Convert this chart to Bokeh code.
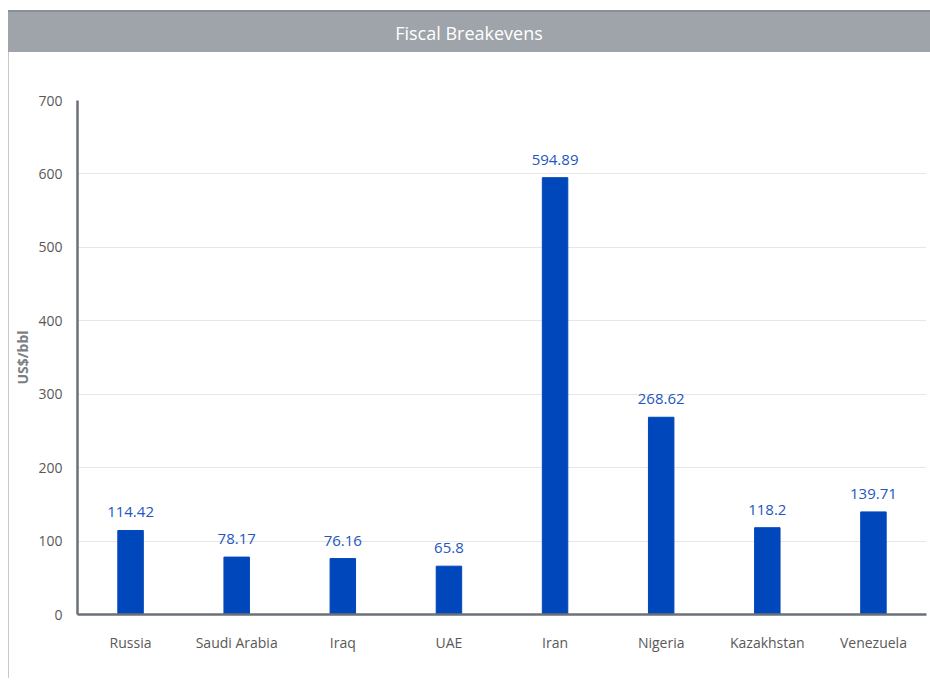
from bokeh.plotting import figure
from bokeh.models import ColumnDataSource, Div, LabelSet, Range1d, SingleIntervalTicker
from bokeh.core.properties import value
from bokeh.layouts import column
from bokeh.embed import file_html
from bokeh.resources import INLINE

countries = ["Russia", "Saudi Arabia", "Iraq", "UAE", "Iran", "Nigeria", "Kazakhstan", "Venezuela"]
breakevens = [114.42, 78.17, 76.16, 65.8, 594.89, 268.62, 118.2, 139.71]
labels = ["114.42", "78.17", "76.16", "65.8", "594.89", "268.62", "118.2", "139.71"]

src = ColumnDataSource(dict(x=countries, y=breakevens, lab=labels))

FONT = "Open Sans"
W = 922

title = Div(
    text=('<div style="margin-top:2px;height:42px;line-height:42px;width:922px;'
          'background:#9ea4aa;color:white;font-family:\'Open Sans\';font-size:18px;'
          'text-align:center;border-top:2px solid #8a9096;box-sizing:border-box;">'
          'Fiscal Breakevens</div>'),
    width=W, height=44, margin=0,
)

p = figure(x_range=countries, y_range=Range1d(0, 700), width=W, height=626,
           output_backend="svg", toolbar_location=None, margin=0,
           min_border_left=68, min_border_right=5, min_border_top=48, min_border_bottom=64)
p.styles = {"border-left": "1px solid #c8c8c8"}
p.vbar(x="x", top="y", width=0.24, source=src, color="#0047bb")
p.add_layout(LabelSet(x="x", y="y", text="lab", source=src, y_offset=13, text_align="center",
                      text_color="#2356c0", text_font_size="15px", text_font=value(FONT)))

p.outline_line_color = None
p.xgrid.grid_line_color = None
p.ygrid.grid_line_color = "#e6e6e6"
p.yaxis.ticker = SingleIntervalTicker(interval=100)
p.yaxis.axis_label = "US$/bbl"
p.yaxis.axis_label_text_font_style = "bold"
p.yaxis.axis_label_text_color = "#7a7f85"
p.yaxis.axis_label_text_font_size = "14px"
p.yaxis.axis_label_text_font = FONT
p.yaxis.axis_label_standoff = 3
for ax in (p.xaxis, p.yaxis):
    ax.axis_line_color = "#6b7178"
    ax.axis_line_width = 2.5
    ax.major_tick_line_color = None
    ax.minor_tick_line_color = None
    ax.major_label_text_color = "#595959"
    ax.major_label_text_font = FONT
p.yaxis.major_label_text_font_size = "14px"
p.xaxis.major_label_text_font_size = "14px"
p.yaxis.major_label_standoff = 9
p.xaxis.major_label_standoff = 12

layout = column(title, p, spacing=0, margin=(8, 0, 0, 8))
open("out.html", "w").write(file_html(layout, INLINE))
